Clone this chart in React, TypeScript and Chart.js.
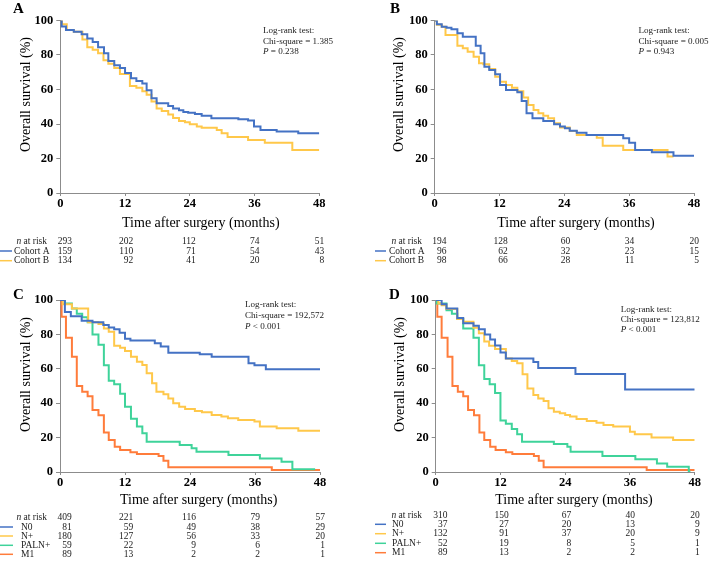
import React, { useEffect, useRef } from 'react';
import { Chart, registerables } from 'chart.js';

Chart.register(...registerables);

const FONT = '"Liberation Serif", "Times New Roman", Times, serif';
const BLUE = '#4472C4';
const YELLOW = '#FFC84A';
const GREEN = '#3FD39A';
const ORANGE = '#FF7C3B';

// ---------- axis ticks ----------
const xTicks = [0, 12, 24, 36, 48];
const yTicks = [0, 20, 40, 60, 80, 100];

// ---------- Panel A ----------
const aCohortATime = [0, 0.25, 1.05, 2.5, 3.95, 5.0, 6.0, 7.0, 8.1, 8.9, 10.0, 11.05, 12.0, 13.1, 14.1, 15.2, 16.0, 16.9, 17.85, 20.0, 20.9, 22.0, 22.8, 23.7, 24.95, 26.2, 28.0, 33.0, 34.8, 35.9, 37.1, 40.1, 44.1, 48];
const aCohortASurv = [100, 96.5, 94.5, 93.5, 92, 89.5, 87.5, 84.5, 81, 76.5, 74, 72.5, 69.5, 66.5, 65, 63.5, 59.5, 55, 52, 50.5, 49, 48, 47, 46.5, 45.8, 44.8, 43.3, 42.7, 42, 38.5, 36.5, 35.6, 34.6, 34.6];
const aCohortBTime = [0, 0.3, 1.2, 2.5, 4.1, 5.0, 6.0, 7.0, 8.0, 8.9, 10.0, 11.05, 12.9, 14.1, 15.2, 16.0, 16.9, 17.85, 18.8, 20.0, 20.9, 22.0, 23.1, 24.0, 25.3, 26.2, 29.0, 29.9, 31.0, 34.8, 37.9, 43.0, 48];
const aCohortBSurv = [100, 97.8, 94.5, 93.5, 89, 84.5, 83, 81, 77, 75, 72.5, 69, 62, 61, 59, 57, 53, 49, 47.5, 45.5, 43.5, 41.7, 41, 39.8, 38.5, 37.8, 36.5, 34.6, 32.5, 30.7, 29.2, 25, 25];
const aRiskTotal = [293, 202, 112, 74, 51];
const aRiskCohortA = [159, 110, 71, 54, 43];
const aRiskCohortB = [134, 92, 41, 20, 8];

// ---------- Panel B ----------
const bCohortATime = [0, 0.4, 1.3, 2.2, 3.1, 4.2, 5.2, 7.6, 8.5, 9.2, 10.1, 11.2, 12.1, 13.2, 15.3, 16.1, 17.0, 18.1, 20.1, 22.1, 23.2, 24.1, 25.0, 26.3, 28.1, 34.9, 36.0, 37.1, 40.2, 44.2, 48];
const bCohortASurv = [100, 97.8, 96.4, 95.8, 95, 92.6, 90.6, 85.4, 81, 73.2, 71.3, 68.8, 62.6, 59.7, 58.4, 53.3, 46.2, 43.3, 41.7, 39.8, 38.5, 37.5, 36.1, 35, 33.6, 31.7, 29.2, 24.9, 23.6, 21.6, 21.6];
const bCohortBTime = [0, 0.4, 1.3, 2.0, 4.2, 5.2, 6.1, 7.2, 8.2, 9.0, 10.1, 11.2, 12.1, 13.2, 14.3, 15.3, 16.4, 17.3, 18.3, 19.2, 20.1, 21.0, 22.1, 23.2, 25.0, 26.3, 30.0, 31.1, 34.9, 43.1, 44.2];
const bCohortBSurv = [100, 97.5, 96.4, 91.6, 85.4, 83.9, 81.9, 79, 75.2, 74.6, 71.9, 67.4, 64.5, 62.6, 61, 59, 55.3, 51, 48.1, 46.2, 44.8, 43.3, 40.4, 37.9, 35.9, 33.6, 32.1, 27.4, 24.9, 21.1, 21.1];
const bRiskTotal = [194, 128, 60, 34, 20];
const bRiskCohortA = [96, 62, 32, 23, 15];
const bRiskCohortB = [98, 66, 28, 11, 5];

// ---------- Panel C ----------
const cN0Time = [0, 0.9, 2.0, 4.0, 6.0, 8.0, 9.0, 10.0, 11.0, 12.0, 13.0, 17.5, 18.6, 20.0, 25.8, 28.0, 34.8, 35.9, 38.0, 48];
const cN0Surv = [100, 93, 90.5, 88, 87, 85.5, 84, 83, 81, 77.5, 76.5, 74.8, 72.9, 69.4, 68.4, 67, 63.2, 62, 59.8, 59.8];
const cNpTime = [0, 0.5, 2.2, 5.2, 7.1, 8.1, 9.0, 10.0, 11.1, 12.0, 13.1, 14.2, 15.2, 16.0, 17.0, 17.8, 19.1, 20.0, 20.9, 22.0, 23.1, 24.9, 26.2, 28.0, 29.8, 31.0, 32.9, 35.9, 36.9, 40.0, 44.0, 48];
const cNpSurv = [100, 97.5, 95, 87, 86, 83.5, 81.6, 73.4, 72.3, 70.3, 67, 64.1, 62.2, 57.4, 51.6, 46.7, 45.2, 42.8, 39.9, 38, 36.6, 35.5, 34.7, 33.1, 32.2, 31.2, 30.2, 29.3, 26.4, 25.4, 24, 24];
const cPalnTime = [0, 0.9, 2.2, 3.1, 4.1, 5.1, 6.0, 7.1, 8.1, 9.0, 10.0, 11.1, 12.0, 13.1, 14.2, 15.2, 16.0, 22.1, 24.3, 25.2, 31.1, 36.9, 40.9, 42.9, 47.1];
const cPalnSurv = [100, 98, 95, 92, 90, 87, 80, 74, 62, 53, 51, 45.5, 38, 31, 26.5, 22.5, 17.6, 15.7, 13.8, 11.8, 9.9, 7.9, 6, 1.6, 1.6];
const m1Time = [0, 0.3, 1.1, 2.2, 3.1, 4.1, 5.1, 6.0, 7.1, 8.1, 9.0, 10.1, 11.1, 13.0, 14.2, 18.2, 19.1, 20.0, 39.1, 48];
const m1Surv = [100, 90.3, 78, 67, 50, 46.7, 44, 36, 33, 23, 18.6, 14.7, 12.8, 11.5, 10.5, 9.3, 6.5, 2.7, 1.2, 1.2];
const cRiskTotal = [409, 221, 116, 79, 57];
const cRiskN0 = [81, 59, 49, 38, 29];
const cRiskNp = [180, 127, 56, 33, 20];
const cRiskPaln = [59, 22, 9, 6, 1];
const cRiskM1 = [89, 13, 2, 2, 1];

// ---------- Panel D ----------
const dN0Time = [0, 1.1, 2.0, 4.0, 5.1, 7.0, 8.0, 9.1, 10.1, 11.0, 12.0, 13.0, 18.1, 19.0, 25.9, 35.1, 48];
const dN0Surv = [100, 97.5, 95, 89.5, 86.5, 85, 83, 80, 77, 73.5, 69.5, 66, 64, 60.5, 57, 48, 48];
const dNpTime = [0, 0.5, 1.1, 2.0, 4.0, 5.1, 7.0, 8.0, 9.0, 9.9, 11.0, 13.0, 14.1, 15.1, 16.1, 17.0, 18.1, 19.0, 20.0, 20.9, 21.9, 23.0, 24.0, 24.9, 26.1, 28.0, 29.8, 31.1, 32.9, 36.0, 36.9, 40.0, 44.0, 48];
const dNpSurv = [100, 98, 97, 94.8, 89, 87.4, 83.9, 80.6, 75.8, 73.4, 71.5, 66, 64.5, 63.2, 56.8, 48.6, 44.8, 42.8, 41.3, 37, 35.1, 34.1, 33.1, 32.2, 30.8, 29.7, 28.7, 27.3, 26.4, 23.4, 21.9, 20, 18.6, 18.6];
const dPalnTime = [0, 0.2, 2.0, 3.0, 4.0, 5.1, 7.0, 8.0, 9.0, 10.0, 11.0, 12.0, 13.0, 14.1, 15.1, 16.0, 21.9, 24.4, 25.0, 30.9, 37.0, 41.0, 42.9, 46.9, 47.2];
const dPalnSurv = [100, 98, 94, 92, 89, 83.5, 78, 62, 54, 51, 46, 30, 28, 25, 22, 17.6, 16.3, 14.7, 11.8, 9.3, 7.4, 5, 3.1, 0.3, 0.3];
const dRiskTotal = [310, 150, 67, 40, 20];
const dRiskN0 = [37, 27, 20, 13, 9];
const dRiskNp = [132, 91, 37, 20, 9];
const dRiskPaln = [52, 19, 8, 5, 1];
const dRiskM1 = [89, 13, 2, 2, 1];

type Series = { label: string; t: number[]; s: number[]; color: string; risk: number[] };
type Panel = {
  letter: string;
  chi: string;
  p: string;
  series: Series[];
  riskTotal: number[];
  box: { left: number; top: number; w: number; h: number };
  area: { left: number; right: number; top: number; bottom: number };
  letterPos: [number, number];
  yTitlePos: [number, number];
  xTitlePos: [number, number];
  annot: { x: number; ys: number[] };
  table: { rows: number[]; labelLeft: number; nRight: number; line: [number, number] };
};

const COL_OFFSETS = [11.8, 8.2, 6, 5, 5];
const ANNOT_SIZE = 9.1;

const panels: Panel[] = [
  {
    letter: 'A', chi: 'Chi-square = 1.385', p: ' = 0.238',
    series: [
      { label: 'Cohort A', t: aCohortATime, s: aCohortASurv, color: BLUE, risk: aRiskCohortA },
      { label: 'Cohort B', t: aCohortBTime, s: aCohortBSurv, color: YELLOW, risk: aRiskCohortB },
    ],
    riskTotal: aRiskTotal,
    box: { left: 0, top: 0, w: 354, h: 280 },
    area: { left: 60.3, right: 319.3, top: 20.5, bottom: 193 },
    letterPos: [13, 9.5], yTitlePos: [26.3, 94.5], xTitlePos: [200.8, 223],
    annot: { x: 263, ys: [30.7, 41.7, 51.7] },
    table: { rows: [241.7, 251, 260.7], labelLeft: 14, nRight: 47, line: [0, 12] },
  },
  {
    letter: 'B', chi: 'Chi-square = 0.005', p: ' = 0.943',
    series: [
      { label: 'Cohort A', t: bCohortATime, s: bCohortASurv, color: BLUE, risk: bRiskCohortA },
      { label: 'Cohort B', t: bCohortBTime, s: bCohortBSurv, color: YELLOW, risk: bRiskCohortB },
    ],
    riskTotal: bRiskTotal,
    box: { left: 354, top: 0, w: 355, h: 280 },
    area: { left: 80.7, right: 340, top: 20.5, bottom: 193 },
    letterPos: [36, 9], yTitlePos: [45.3, 94.5], xTitlePos: [222, 223],
    annot: { x: 284.5, ys: [30.7, 41.7, 51.7] },
    table: { rows: [241.7, 251, 260.7], labelLeft: 35, nRight: 68, line: [21, 32] },
  },
  {
    letter: 'C', chi: 'Chi-square = 192,572', p: ' < 0.001',
    series: [
      { label: 'N0', t: cN0Time, s: cN0Surv, color: BLUE, risk: cRiskN0 },
      { label: 'N+', t: cNpTime, s: cNpSurv, color: YELLOW, risk: cRiskNp },
      { label: 'PALN+', t: cPalnTime, s: cPalnSurv, color: GREEN, risk: cRiskPaln },
      { label: 'M1', t: m1Time, s: m1Surv, color: ORANGE, risk: cRiskM1 },
    ],
    riskTotal: cRiskTotal,
    box: { left: 0, top: 280, w: 354, h: 281 },
    area: { left: 60, right: 320, top: 20, bottom: 192 },
    letterPos: [13, 15], yTitlePos: [26, 94.5], xTitlePos: [198.7, 220],
    annot: { x: 245, ys: [25, 36, 46.7] },
    table: { rows: [237.7, 247, 256, 265.3, 274.3], labelLeft: 21, nRight: 47, line: [0, 13] },
  },
  {
    letter: 'D', chi: 'Chi-square = 123,812', p: ' < 0.001',
    series: [
      { label: 'N0', t: dN0Time, s: dN0Surv, color: BLUE, risk: dRiskN0 },
      { label: 'N+', t: dNpTime, s: dNpSurv, color: YELLOW, risk: dRiskNp },
      { label: 'PALN+', t: dPalnTime, s: dPalnSurv, color: GREEN, risk: dRiskPaln },
      { label: 'M1', t: m1Time, s: m1Surv, color: ORANGE, risk: dRiskM1 },
    ],
    riskTotal: dRiskTotal,
    box: { left: 354, top: 280, w: 355, h: 281 },
    area: { left: 81.7, right: 340.7, top: 20, bottom: 192 },
    letterPos: [35, 15], yTitlePos: [46, 94.5], xTitlePos: [220, 220],
    annot: { x: 266.7, ys: [30, 40, 50] },
    table: { rows: [235.3, 244.3, 253.7, 263.3, 272.7], labelLeft: 38, nRight: 68, line: [21, 32] },
  },
];

function KMPanel({ cfg }: { cfg: Panel }) {
  const ref = useRef<HTMLCanvasElement>(null);
  useEffect(() => {
    const canvas = ref.current;
    if (!canvas) return;
    const { box, area } = cfg;
    const decor = {
      id: 'decor' + cfg.letter,
      afterDraw(chart: any) {
        const ctx: CanvasRenderingContext2D = chart.ctx;
        ctx.save();
        ctx.fillStyle = '#000';
        ctx.textBaseline = 'middle';
        // panel letter
        ctx.font = `bold 15px ${FONT}`;
        ctx.textAlign = 'left';
        ctx.fillText(cfg.letter, cfg.letterPos[0], cfg.letterPos[1]);
        // y title
        ctx.save();
        ctx.translate(cfg.yTitlePos[0], cfg.yTitlePos[1]);
        ctx.rotate(-Math.PI / 2);
        ctx.font = `14px ${FONT}`;
        ctx.textAlign = 'center';
        ctx.fillText('Overall survival (%)', 0, 0);
        ctx.restore();
        // x title
        ctx.font = `14px ${FONT}`;
        ctx.textAlign = 'center';
        ctx.fillText('Time after surgery (months)', cfg.xTitlePos[0], cfg.xTitlePos[1]);
        // annotation
        ctx.textAlign = 'left';
        ctx.font = `${ANNOT_SIZE}px ${FONT}`;
        ctx.fillStyle = '#222';
        ctx.fillText('Log-rank test:', cfg.annot.x, cfg.annot.ys[0]);
        ctx.fillText(cfg.chi, cfg.annot.x, cfg.annot.ys[1]);
        ctx.font = `italic ${ANNOT_SIZE}px ${FONT}`;
        ctx.fillText('P', cfg.annot.x, cfg.annot.ys[2]);
        const pw = ctx.measureText('P').width;
        ctx.font = `${ANNOT_SIZE}px ${FONT}`;
        ctx.fillText(cfg.p, cfg.annot.x + pw, cfg.annot.ys[2]);
        // risk table
        const xs = chart.scales.x;
        const tb = cfg.table;
        ctx.font = `9.5px ${FONT}`;
        ctx.textAlign = 'right';
        const rest = ' at risk';
        ctx.fillText(rest, tb.nRight, tb.rows[0]);
        const rw = ctx.measureText(rest).width;
        ctx.font = `italic 9.5px ${FONT}`;
        ctx.fillText('n', tb.nRight - rw, tb.rows[0]);
        ctx.font = `9.5px ${FONT}`;
        const rowsData = [cfg.riskTotal, ...cfg.series.map((s) => s.risk)];
        rowsData.forEach((vals, r) => {
          const y = tb.rows[r];
          vals.forEach((v, k) => {
            const px = xs.getPixelForValue(xTicks[k]) + COL_OFFSETS[k];
            ctx.textAlign = 'right';
            ctx.fillText(String(v), px, y);
          });
        });
        cfg.series.forEach((s, i) => {
          const y = tb.rows[i + 1];
          ctx.strokeStyle = s.color;
          ctx.lineWidth = 1.5;
          ctx.beginPath();
          ctx.moveTo(tb.line[0], y);
          ctx.lineTo(tb.line[1], y);
          ctx.stroke();
          ctx.textAlign = 'left';
          ctx.fillText(s.label, tb.labelLeft, y);
        });
        ctx.restore();
      },
    };
    const chart = new Chart(canvas, {
      type: 'line',
      data: {
        datasets: cfg.series.map((s) => ({
          label: s.label,
          data: s.t.map((x, i) => ({ x, y: s.s[i] })),
          borderColor: s.color,
          backgroundColor: s.color,
          borderWidth: 2,
          pointRadius: 0,
          stepped: 'before' as const,
          fill: false,
          tension: 0,
        })),
      },
      options: {
        animation: false,
        responsive: false,
        maintainAspectRatio: false,
        events: [],
        layout: { padding: { left: 0, right: box.w - area.right, top: area.top, bottom: 0 } },
        plugins: { legend: { display: false }, tooltip: { enabled: false }, title: { display: false } },
        scales: {
          x: {
            type: 'linear',
            min: 0,
            max: 48,
            afterBuildTicks: (s: any) => {
              s.ticks = xTicks.map((v) => ({ value: v }));
            },
            afterFit: (s: any) => {
              s.height = box.h - area.bottom;
            },
            ticks: {
              padding: 0,
              color: '#000',
              font: { family: FONT, size: 12.5, weight: 'bold' },
              maxRotation: 0,
            },
            grid: { drawOnChartArea: false, drawTicks: true, tickLength: 3, color: '#8c8c8c' },
            border: { color: '#8c8c8c', width: 1 },
          },
          y: {
            type: 'linear',
            min: 0,
            max: 100,
            afterBuildTicks: (s: any) => {
              s.ticks = yTicks.map((v) => ({ value: v }));
            },
            afterFit: (s: any) => {
              s.width = area.left;
            },
            ticks: {
              padding: 3,
              color: '#000',
              font: { family: FONT, size: 12.5, weight: 'bold' },
            },
            grid: { drawOnChartArea: false, drawTicks: true, tickLength: 4, color: '#8c8c8c' },
            border: { color: '#8c8c8c', width: 1 },
          },
        },
      },
      plugins: [decor],
    } as any);
    return () => chart.destroy();
  }, [cfg]);
  const { box } = cfg;
  return (
    <canvas
      ref={ref}
      width={box.w}
      height={box.h}
      style={{ position: 'absolute', left: box.left, top: box.top, width: box.w, height: box.h }}
    />
  );
}

export default function App() {
  return (
    <div style={{ position: 'fixed', left: 0, top: 0, width: 709, height: 561, background: '#fff', overflow: 'hidden' }}>
      {panels.map((p) => (
        <KMPanel key={p.letter} cfg={p} />
      ))}
    </div>
  );
}
